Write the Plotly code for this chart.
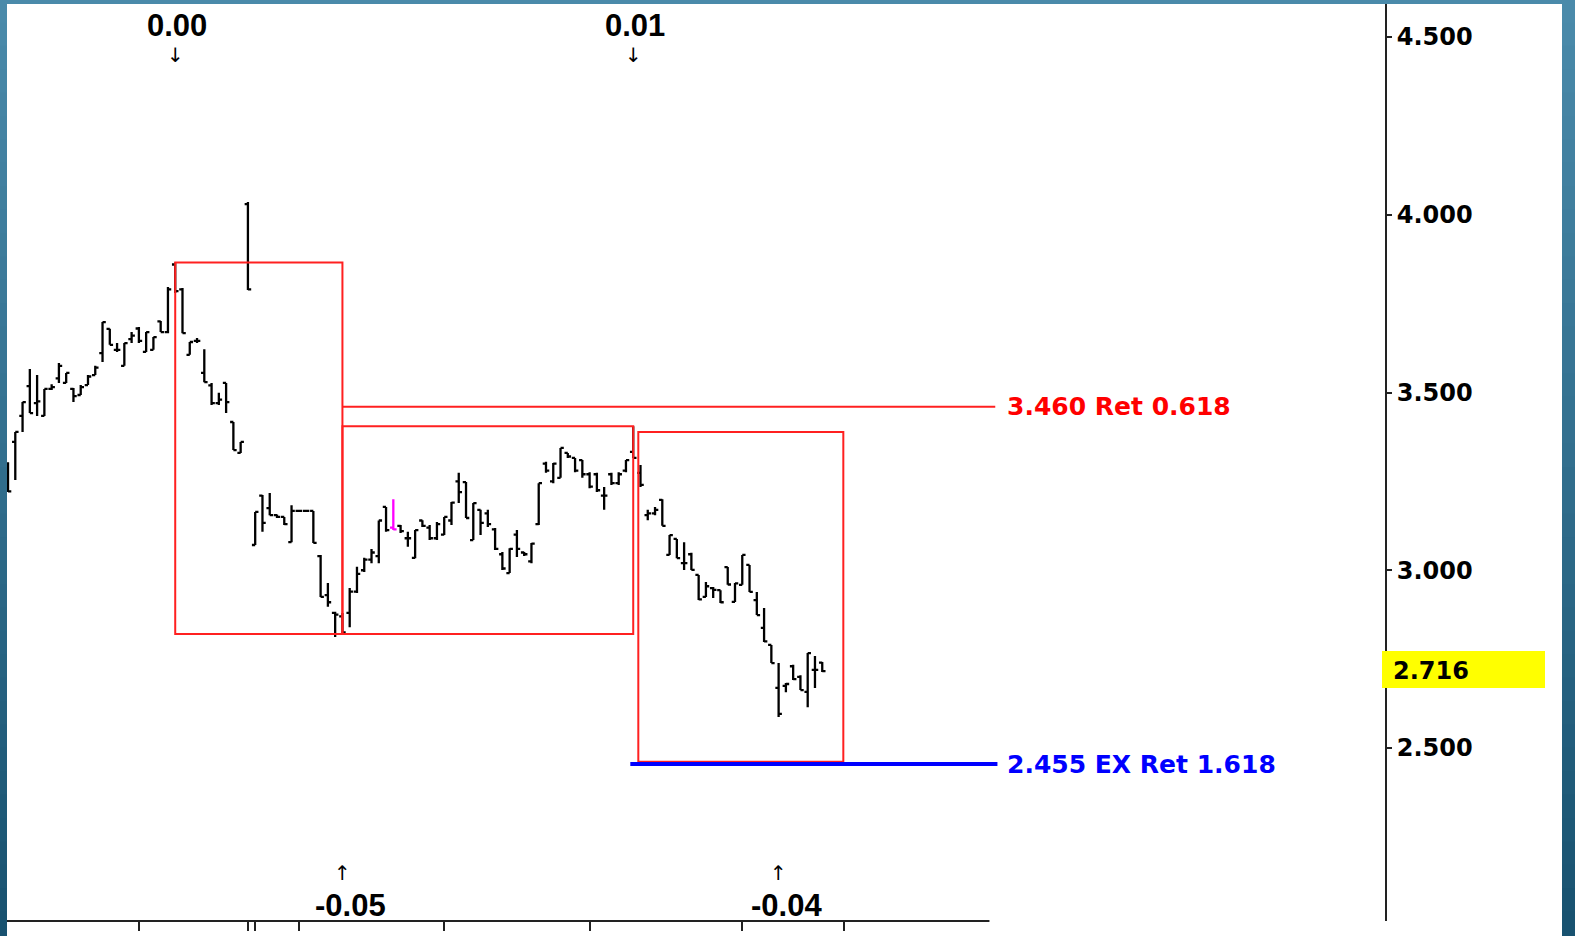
import plotly.graph_objects as go

# ---------------- data ----------------
opens = [3.27, 3.361, 3.434, 3.518, 3.47, 3.434, 3.51, 3.54, 3.527, 3.51,
         3.493, 3.521, 3.549, 3.611, 3.679, 3.62, 3.575, 3.65, 3.68, 3.614,
         3.62, 3.70, 3.67, 3.86, 3.79, 3.606, 3.645, 3.555, 3.52, 3.47,
         3.527, 3.417, 3.33, 4.03, 3.071, 3.21, 3.175, 3.155, 3.15, 3.079,
         3.167, 3.167, 3.167, 3.04, 2.93, 2.88, 2.87, 2.88, 2.94, 3.00,
         3.03, 3.04, 3.178, 3.12, 3.125, 3.09, 3.035, 3.14, 3.12, 3.09,
         3.10, 3.14, 3.25, 3.248, 3.085, 3.17, 3.16, 3.115, 3.045, 2.992,
         3.10, 3.05, 3.025, 3.13, 3.30, 3.25, 3.26, 3.33, 3.316, 3.31,
         3.27, 3.27, 3.21, 3.27, 3.245, 3.28, 3.333, 3.274, 3.155, 3.16,
         3.198, 3.043, 3.088, 3.02, 3.045, 2.987, 2.925, 2.95, 2.944, 3.009,
         2.911, 2.959, 3.015, 2.916, 2.838, 2.79, 2.669, 2.675, 2.73, 2.70,
         2.658, 2.72, 2.74]
highs = [3.304, 3.389, 3.473, 3.566, 3.549, 3.510, 3.523, 3.583, 3.555, 3.513,
         3.521, 3.549, 3.575, 3.698, 3.679, 3.639, 3.639, 3.670, 3.684, 3.670,
         3.656, 3.701, 3.797, 3.866, 3.794, 3.642, 3.653, 3.622, 3.527, 3.499,
         3.527, 3.417, 3.361, 4.036, 3.164, 3.212, 3.217, 3.157, 3.150, 3.183,
         3.167, 3.167, 3.167, 3.043, 2.964, 2.883, 2.880, 2.95, 3.01, 3.035,
         3.06, 3.14, 3.178, 3.20, 3.127, 3.108, 3.113, 3.141, 3.127, 3.136,
         3.15, 3.192, 3.274, 3.248, 3.189, 3.17, 3.17, 3.119, 3.051, 3.062,
         3.113, 3.051, 3.077, 3.245, 3.305, 3.302, 3.344, 3.33, 3.316, 3.310,
         3.276, 3.274, 3.234, 3.274, 3.276, 3.310, 3.405, 3.296, 3.170, 3.178,
         3.200, 3.099, 3.088, 3.079, 3.049, 2.987, 2.967, 2.953, 2.944, 3.009,
         2.964, 3.043, 3.015, 2.939, 2.894, 2.790, 2.739, 2.683, 2.734, 2.705,
         2.767, 2.759, 2.742]
lows = [3.220, 3.254, 3.389, 3.442, 3.434, 3.434, 3.507, 3.527, 3.527, 3.473,
        3.493, 3.521, 3.549, 3.586, 3.634, 3.614, 3.575, 3.639, 3.639, 3.614,
        3.620, 3.670, 3.667, 3.78, 3.667, 3.606, 3.639, 3.529, 3.465, 3.465,
        3.442, 3.338, 3.330, 3.788, 3.071, 3.108, 3.155, 3.147, 3.127, 3.079,
        3.167, 3.167, 3.077, 2.925, 2.897, 2.812, 2.821, 2.84, 2.936, 2.995,
        3.02, 3.02, 3.108, 3.113, 3.105, 3.066, 3.034, 3.122, 3.085, 3.085,
        3.099, 3.127, 3.189, 3.147, 3.085, 3.099, 3.122, 3.057, 3.001, 2.992,
        3.037, 3.040, 3.020, 3.127, 3.274, 3.245, 3.26, 3.316, 3.276, 3.260,
        3.231, 3.220, 3.170, 3.240, 3.240, 3.276, 3.316, 3.234, 3.141, 3.155,
        3.125, 3.043, 3.034, 3.001, 3.001, 2.916, 2.925, 2.922, 2.908, 2.959,
        2.911, 2.959, 2.939, 2.874, 2.798, 2.739, 2.587, 2.657, 2.691, 2.663,
        2.615, 2.669, 2.714]
closes = [3.222, 3.389, 3.473, 3.442, 3.475, 3.510, 3.515, 3.575, 3.555, 3.49,
          3.515, 3.545, 3.57, 3.698, 3.634, 3.62, 3.639, 3.66, 3.645, 3.670,
          3.656, 3.67, 3.79, 3.785, 3.667, 3.642, 3.645, 3.529, 3.47, 3.48,
          3.473, 3.338, 3.361, 3.79, 3.164, 3.133, 3.155, 3.15, 3.13, 3.167,
          3.167, 3.167, 3.077, 2.925, 2.91, 2.875, 2.825, 2.94, 2.99, 3.03,
          3.05, 3.14, 3.113, 3.115, 3.11, 3.09, 3.113, 3.125, 3.09, 3.13,
          3.15, 3.19, 3.22, 3.147, 3.189, 3.133, 3.13, 3.06, 3.005, 3.06,
          3.06, 3.045, 3.075, 3.245, 3.28, 3.30, 3.344, 3.32, 3.28, 3.27,
          3.235, 3.225, 3.21, 3.245, 3.27, 3.31, 3.316, 3.240, 3.16, 3.17,
          3.125, 3.099, 3.034, 3.02, 3.001, 2.918, 2.955, 2.945, 2.91, 2.96,
          2.963, 3.043, 2.939, 2.874, 2.80, 2.739, 2.596, 2.68, 2.694, 2.663,
          2.767, 2.72, 2.716]
bar_slots = list(range(len(closes)))
highlight_bar = 53

price_ticks = [2.5, 3.0, 3.5, 4.0, 4.5]
time_ticks = [18, 33, 34, 40, 60, 80, 101, 115]

last_price = 2.716
ret_level, ret_label = 3.460, "3.460 Ret 0.618"
ext_level, ext_label = 2.455, "2.455 EX Ret 1.618"

swing_high_slots = [23, 86]
swing_high_labels = ["0.00", "0.01"]
swing_low_slots = [46, 106]
swing_low_labels = ["-0.05", "-0.04"]

box_x0 = [23, 46, 86.7]
box_x1 = [46, 86, 114.9]
box_y0 = [2.821, 2.821, 2.461]
box_y1 = [3.866, 3.405, 3.389]

# ---------------- layout geometry ----------------
W, H = 1575, 936
ML, MR, MT, MB = 7, 190, 4, 15
PW, PH = W - ML - MR, H - MT - MB


def px(p):
    return (p - ML) / PW


def py(p):
    return (H - MB - p) / PH


main_idx = [i for i in bar_slots if i != highlight_bar]

fig = go.Figure()
fig.add_trace(go.Ohlc(
    x=[bar_slots[i] for i in main_idx],
    open=[opens[i] for i in main_idx],
    high=[highs[i] for i in main_idx],
    low=[lows[i] for i in main_idx],
    close=[closes[i] for i in main_idx],
    increasing_line_color="black", decreasing_line_color="black",
    line=dict(width=2.3), tickwidth=0.45, showlegend=False, hoverinfo="skip"))
fig.add_trace(go.Ohlc(
    x=[bar_slots[highlight_bar]], open=[opens[highlight_bar]],
    high=[highs[highlight_bar]], low=[lows[highlight_bar]],
    close=[closes[highlight_bar]],
    increasing_line_color="#ff00ff", decreasing_line_color="#ff00ff",
    line=dict(width=2.3), tickwidth=0.45, showlegend=False, hoverinfo="skip"))

shapes = []
# gradient blue frame
n_bands = 40
top_c, bot_c = (74, 138, 170), (24, 82, 112)
for k in range(n_bands):
    t = k / (n_bands - 1)
    c = tuple(round(top_c[j] + (bot_c[j] - top_c[j]) * t) for j in range(3))
    shapes.append(dict(type="rect", xref="paper", yref="paper", layer="below",
                       x0=px(-2), x1=px(W + 2),
                       y0=py((k + 1) * H / n_bands + 1), y1=py(k * H / n_bands - 1),
                       fillcolor="rgb(%d,%d,%d)" % c, line=dict(width=0)))
# white chart surface
shapes.append(dict(type="rect", xref="paper", yref="paper", layer="below",
                   x0=px(7), x1=px(1562), y0=py(H + 5), y1=py(4),
                   fillcolor="white", line=dict(width=0)))
# bottom time-axis line (only under the time range)
shapes.append(dict(type="line", xref="x", yref="paper", x0=-1, x1=135, y0=0, y1=0,
                   line=dict(color="#222222", width=2)))
# red boxes
for a, b, c, d in zip(box_x0, box_x1, box_y0, box_y1):
    shapes.append(dict(type="rect", xref="x", yref="y", x0=a, x1=b, y0=c, y1=d,
                       line=dict(color="#ff2020", width=2)))
# retracement / extension lines
shapes.append(dict(type="line", xref="x", yref="y", x0=46, x1=135.8,
                   y0=ret_level, y1=ret_level, line=dict(color="#ff2020", width=2)))
shapes.append(dict(type="line", xref="x", yref="y", x0=85.6, x1=136.1,
                   y0=ext_level, y1=ext_level, line=dict(color="#0000ff", width=4)))
# last-price marker
shapes.append(dict(type="rect", xref="paper", yref="paper",
                   x0=px(1382), x1=px(1545), y0=py(688), y1=py(651),
                   fillcolor="#ffff00", line=dict(width=0)))

lab_font = dict(family="Liberation Sans", size=31, color="black", weight="bold")
arrow_font = dict(family="DejaVu Sans", size=20, color="black")
big_font = dict(family="DejaVu Sans", size=25, weight="bold")

annotations = []
for s, t in zip(swing_high_slots, swing_high_labels):
    annotations.append(dict(x=s, y=py(25), xref="x", yref="paper", text=t, showarrow=False,
                            xanchor="center", yanchor="middle", xshift=2, font=lab_font))
    annotations.append(dict(x=s, y=py(55), xref="x", yref="paper", text="↓", showarrow=False,
                            xanchor="center", yanchor="middle", font=arrow_font))
for s, t in zip(swing_low_slots, swing_low_labels):
    annotations.append(dict(x=s, y=py(905), xref="x", yref="paper", text=t, showarrow=False,
                            xanchor="center", yanchor="middle", xshift=8, font=lab_font))
    annotations.append(dict(x=s, y=py(873), xref="x", yref="paper", text="↑", showarrow=False,
                            xanchor="center", yanchor="middle", font=arrow_font))
annotations.append(dict(x=137.1, y=ret_level, xref="x", yref="y", text=ret_label,
                        showarrow=False, xanchor="left", yanchor="middle",
                        font=dict(big_font, color="#ff0000")))
annotations.append(dict(x=137.1, y=ext_level, xref="x", yref="y", text=ext_label,
                        showarrow=False, xanchor="left", yanchor="middle",
                        font=dict(big_font, color="#0000ff")))
annotations.append(dict(x=px(1391), y=last_price, xref="paper", yref="y",
                        text="%.3f" % last_price, showarrow=False, xanchor="left",
                        yanchor="middle",
                        font=dict(family="DejaVu Sans", size=24, color="black", weight="bold")))

fig.update_layout(
    width=W, height=H,
    margin=dict(l=ML, r=MR, t=MT, b=MB, pad=0),
    paper_bgcolor="rgb(50,110,140)", plot_bgcolor="rgba(0,0,0,0)",
    shapes=shapes, annotations=annotations, showlegend=False,
    xaxis=dict(range=[-0.14, 189.41], rangeslider=dict(visible=False),
               showgrid=False, zeroline=False, showline=False,
               tickmode="array", tickvals=time_ticks, ticks="outside",
               ticklen=9, tickwidth=1.5, tickcolor="#222222", showticklabels=False,
               fixedrange=True),
    yaxis=dict(range=[2.0134, 4.5928], side="right", showgrid=False, zeroline=False,
               showline=True, linecolor="#222222", linewidth=2,
               tickmode="array", tickvals=price_ticks,
               ticktext=["%.3f" % v for v in price_ticks],
               ticks="outside", ticklen=5, tickwidth=1.5, tickcolor="#222222",
               tickfont=dict(family="DejaVu Sans", size=24, color="black", weight="bold"),
               fixedrange=True),
)

fig.write_html("out.html", config={"displayModeBar": False},
               post_script="document.body.style.margin='0';"
                           "document.body.style.overflow='hidden';")
